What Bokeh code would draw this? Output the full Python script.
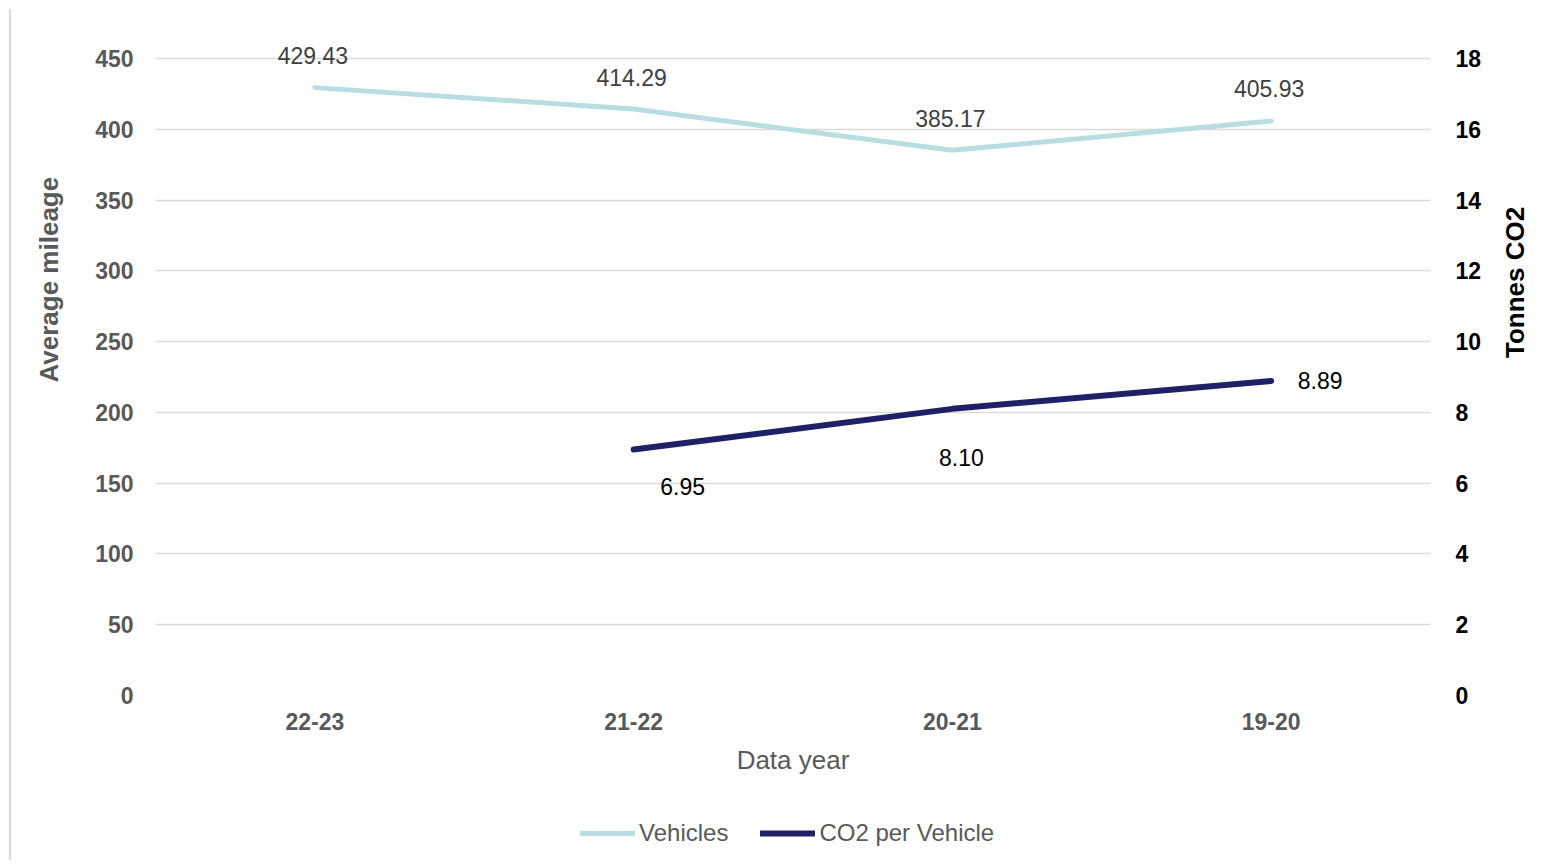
import math
from bokeh.plotting import figure
from bokeh.layouts import column
from bokeh.models import (ColumnDataSource, FactorRange, Range1d, LinearAxis,
                          SingleIntervalTicker, Legend, LegendItem, LabelSet, Title)
from bokeh.core.properties import value
from bokeh.embed import file_html
from bokeh.resources import INLINE

# ---- data ----
years = ["22-23", "21-22", "20-21", "19-20"]
vehicles = [429.43, 414.29, 385.17, 405.93]
co2_years = ["21-22", "20-21", "19-20"]
co2_per_vehicle = [6.95, 8.10, 8.89]
series_names = ["Vehicles", "CO2 per Vehicle"]

# label offsets (px) for CO2 data labels (style, not data)
co2_dx = [49, 9, 49]
co2_dy = [-37, -49, 0]

FONT = "Liberation Sans"
GREY = "#595959"
TEAL = "#B9DEE2"
NAVY = "#1F2066"
BORDER_STYLE = {"background-image": "linear-gradient(#d9d9d9, #d9d9d9)",
                "background-size": "2px 100%",
                "background-position": "9px 0px",
                "background-repeat": "no-repeat"}

Y_TOP = 476.85          # a little headroom above 450 so that top data labels are not clipped
p = figure(width=1548, height=790, x_range=FactorRange(factors=years),
           y_range=Range1d(0, Y_TOP), output_backend="svg", toolbar_location=None,
           min_border_left=155, min_border_right=118, min_border_top=20,
           min_border_bottom=95, outline_line_color=None)
p.border_fill_color = None
p.background_fill_color = None
p.styles = dict(BORDER_STYLE, **{"background-position": "9px 9px",
                                 "background-size": "2px calc(100% - 9px)"})
p.extra_y_ranges = {"co2": Range1d(0, Y_TOP / 25.0)}

# left axis
ya = p.yaxis[0]
ya.ticker = SingleIntervalTicker(interval=50)
# right axis
ra = LinearAxis(y_range_name="co2", ticker=SingleIntervalTicker(interval=2),
                axis_label="Tonnes CO2")
p.add_layout(ra, "right")

for ax in [ya, ra, p.xaxis[0]]:
    ax.axis_line_color = None
    ax.major_tick_line_color = None
    ax.minor_tick_line_color = None
    ax.major_label_text_font = FONT
    ax.major_label_text_font_style = "bold"
    ax.major_label_text_font_size = "23px"
    ax.axis_label_text_font = FONT
    ax.axis_label_text_font_size = "26px"

ya.major_label_text_color = GREY
ya.major_label_standoff = 16

ra.major_label_text_color = "#000000"
ra.axis_label_text_color = "#000000"
ra.axis_label_text_font_style = "bold"
ra.major_label_standoff = 19
ra.axis_label_standoff = 31
try:
    ra.axis_label_orientation = math.pi / 2
except Exception:
    pass

xa = p.xaxis[0]
xa.axis_label = "Data year"
xa.major_label_text_color = GREY
xa.axis_label_text_color = GREY
xa.axis_label_text_font_style = "normal"
xa.major_label_standoff = 11
xa.axis_label_standoff = 12

# left axis title (offset along the axis as in the reference)
lt = Title(text="Average mileage", align="left", offset=313, standoff=58,
           text_font=FONT, text_font_size="26px", text_font_style="bold",
           text_color=GREY)
p.add_layout(lt, "left")

p.xgrid.grid_line_color = None
p.ygrid.grid_line_color = "#d9d9d9"
p.ygrid.grid_line_width = 1.5

src_v = ColumnDataSource(dict(x=years, y=vehicles, t=[f"{v:.2f}" for v in vehicles]))
src_c = ColumnDataSource(dict(x=co2_years, y=co2_per_vehicle,
                              t=[f"{v:.2f}" for v in co2_per_vehicle],
                              dx=co2_dx, dy=co2_dy))

r1 = p.line("x", "y", source=src_v, line_color=TEAL, line_width=5, line_cap="round")
r2 = p.line("x", "y", source=src_c, line_color=NAVY, line_width=6, line_cap="round",
            y_range_name="co2")

lv = LabelSet(x="x", y="y", text="t", source=src_v, x_offset=-2, y_offset=32,
              text_align="center", text_baseline="middle", text_font=value(FONT),
              text_font_size="23px", text_color="#404040")
p.add_layout(lv)
lc = LabelSet(x="x", y="y", text="t", source=src_c, x_offset="dx", y_offset="dy",
              text_align="center", text_baseline="middle", text_font=value(FONT),
              text_font_size="23px", text_color="#000000", y_range_name="co2")
p.add_layout(lc)

# ---- legend strip below the chart (series drawn out of view, only the legend shows) ----
pl = figure(width=1548, height=70, x_range=FactorRange(factors=years),
            y_range=Range1d(-2000, -1000), output_backend="svg", toolbar_location=None,
            min_border=0, outline_line_color=None)
pl.axis.visible = False
pl.grid.visible = False
pl.border_fill_color = None
pl.background_fill_color = None
pl.styles = dict(BORDER_STYLE)
g1 = pl.line("x", "y", source=src_v, line_color=TEAL, line_width=5, line_cap="round")
g2 = pl.line("x", "y", source=src_c, line_color=NAVY, line_width=6, line_cap="round")
legend = Legend(items=[LegendItem(label=series_names[0], renderers=[g1]),
                       LegendItem(label=series_names[1], renderers=[g2])],
                orientation="horizontal", location=(425, 13),
                label_text_font=FONT, label_text_font_size="24px",
                label_text_color=GREY, glyph_width=55, label_standoff=4,
                spacing=32, border_line_color=None, background_fill_alpha=0,
                margin=0, padding=0)
pl.add_layout(legend, "center")

layout = column(p, pl, spacing=0)
open("out.html", "w").write(file_html(layout, INLINE))
